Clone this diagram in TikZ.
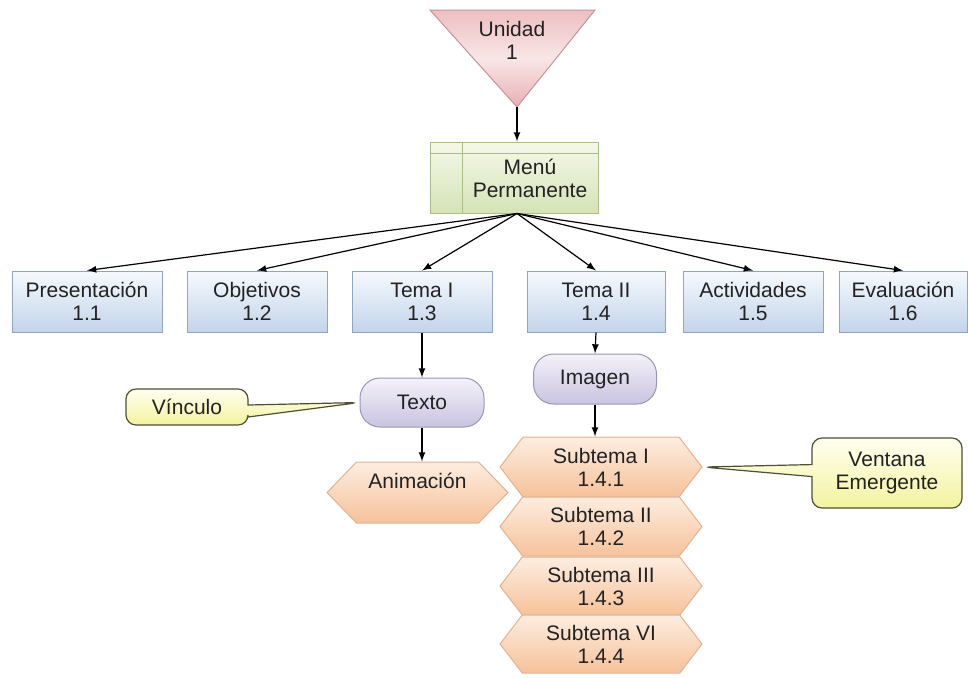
\documentclass[tikz,border=0pt]{standalone}
\usepackage{fontspec}
\setmainfont{Liberation Sans}
\usetikzlibrary{positioning, arrows, shapes.symbols, shapes.callouts}

\definecolor{txtgray}{HTML}{222222}
\definecolor{unidadtop}{HTML}{EDBFC1}
\definecolor{unidadmid}{HTML}{F8E6E6}
\definecolor{unidadbot}{HTML}{E9B0B4}
\definecolor{unidadline}{HTML}{C49498}
\definecolor{menutop}{HTML}{F5F8EA}
\definecolor{menubot}{HTML}{D5E3B6}
\definecolor{menuline}{HTML}{A9BD85}
\definecolor{itemtop}{HTML}{F6F9FD}
\definecolor{itembot}{HTML}{C3D4EA}
\definecolor{itemline}{HTML}{8EA5C3}
\definecolor{pilltop}{HTML}{F4F2FA}
\definecolor{pillbot}{HTML}{C9C3E0}
\definecolor{pillline}{HTML}{9B95B7}
\definecolor{hextop}{HTML}{FDEDE0}
\definecolor{hexbot}{HTML}{F6C29A}
\definecolor{hexline}{HTML}{E2B392}
\definecolor{notetop}{HTML}{FFFFF2}
\definecolor{notebot}{HTML}{F3F39E}
\definecolor{noteline}{HTML}{4F4F38}

\begin{document}
\begin{tikzpicture}[x=0.5pt, y=-0.5pt, >=latex,
    font=\fontsize{10.5}{11.5}\selectfont, text=txtgray,
    every node/.style={inner sep=0pt, align=center},
    conn/.style={->, line width=0.6pt},
    unidadbox/.style={draw=unidadline, line width=0.5pt, top color=unidadtop, bottom color=unidadbot, middle color=unidadmid},
    menubox/.style={rectangle, draw=menuline, line width=0.5pt, top color=menutop, bottom color=menubot, minimum width=84pt, minimum height=35.5pt},
    itembox/.style={rectangle, draw=itemline, line width=0.5pt, top color=itemtop, bottom color=itembot, minimum height=30.5pt},
    pill/.style={rectangle, rounded corners=10pt, draw=pillline, line width=0.5pt, top color=pilltop, bottom color=pillbot},
    hexbox/.style={signal, signal to=east and west, draw=hexline, line width=0.5pt, top color=hextop, bottom color=hexbot},
    notebox/.style={rectangle callout, rounded corners=5pt, callout pointer width=6pt, draw=noteline, line width=0.6pt, top color=notetop, bottom color=notebot}]

  \useasboundingbox (0,0) rectangle (968,677);

  % unidad (triangulo)
  \draw[unidadbox] (430,10) -- (595,10) -- (517,107) -- cycle;
  \coordinate (uapex) at (517,107);
  \node (unidad) at (512,40) {Unidad\\1};

  % menu permanente
  \node (menu) at (514,177.5) [menubox] {};
  \draw[draw=menuline, line width=0.4pt] (menu.north west) ++(0,12) -- ++(168,0);
  \draw[draw=menuline, line width=0.4pt] (menu.north west) ++(33,0) -- ++(0,71);
  \node (menutxt) at (530,178) {Menú\\Permanente};
  \draw[conn] (uapex) -- (uapex |- menu.north);

  % secciones
  \node (present) at (87,301.5)  [itembox, minimum width=75pt] {Presentación\\1.1};
  \node (objet)   at (257,301.5) [itembox, minimum width=70pt] {Objetivos\\1.2};
  \node (tema1)   at (422,301.5) [itembox, minimum width=70pt] {Tema I\\1.3};
  \node (tema2)   at (596,301.5) [itembox, minimum width=69pt] {Tema II\\1.4};
  \node (activ)   at (753,301.5) [itembox, minimum width=70pt] {Actividades\\1.5};
  \node (evalua)  at (903,301.5) [itembox, minimum width=64pt] {Evaluación\\1.6};
  \foreach \n in {present, objet, tema1, tema2, activ, evalua}
    \draw[conn] (uapex |- menu.south) -- (\n.north);

  % tema I
  \node (texto) at (422,402.5) [pill, minimum width=62pt, minimum height=24.5pt] {Texto};
  \node (vinculo) at (187,407) [notebox, minimum width=61pt, minimum height=18pt,
      callout absolute pointer={(texto.west)}] {Vínculo};
  \node (anima) at (417.5,492.5) [hexbox, signal pointer angle=92, minimum width=90.5pt, minimum height=30.5pt] {Animación\\\mbox{}};
  \draw[conn] (tema1.south) -- (texto.north);
  \draw[conn] (texto.south) -- (texto.south |- anima.north);

  % tema II
  \node (imagen) at (595,379) [pill, minimum width=61.5pt, minimum height=25pt] {Imagen};
  \node (sub1) at (601,467)   [hexbox, signal pointer angle=105, minimum width=101pt, minimum height=30pt] {Subtema I\\1.4.1};
  \node (sub2) at (601,526.5) [hexbox, signal pointer angle=105, minimum width=101pt, minimum height=29.5pt] {Subtema II\\1.4.2};
  \node (sub3) at (601,586)   [hexbox, signal pointer angle=105, minimum width=101pt, minimum height=29pt] {Subtema III\\1.4.3};
  \node (sub4) at (601,644)   [hexbox, signal pointer angle=105, minimum width=101pt, minimum height=29pt] {Subtema VI\\1.4.4};
  \node (ventana) at (887,473) [notebox, minimum width=75pt, minimum height=35pt,
      callout absolute pointer={(sub1.east)}] {Ventana\\Emergente};
  \draw[conn] (tema2.south) -- (imagen.north);
  \draw[conn] (imagen.south) -- (imagen.south |- sub1.north);
\end{tikzpicture}
\end{document}
